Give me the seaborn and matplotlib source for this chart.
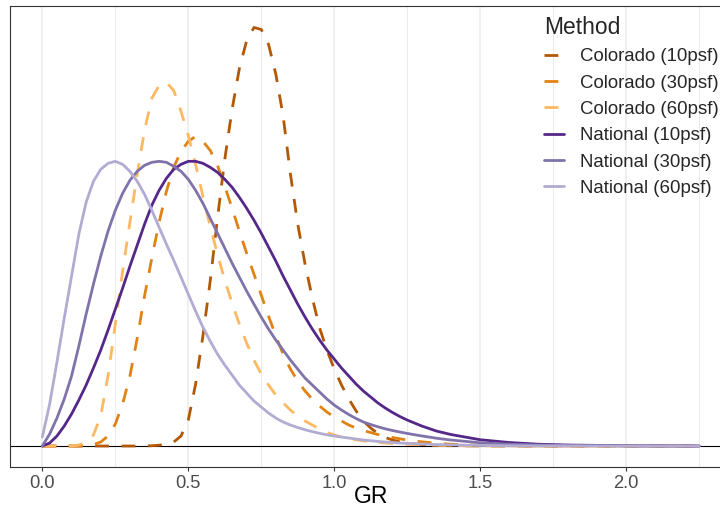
import matplotlib
matplotlib.use("Agg")
import matplotlib.pyplot as plt
from matplotlib.patches import Rectangle
import numpy as np
import pandas as pd
import seaborn as sns

# ---------------- data ----------------
gr = [0, .025, .05, .075, .1, .125, .15, .175, .2, .225, .25, .275, .3, .325, .35,
      .375, .4, .425, .45, .475, .5, .525, .55, .575, .6, .625, .65, .675, .7, .725,
      .75, .775, .8, .825, .85, .875, .9, .925, .95, .975, 1.0, 1.025, 1.05, 1.075,
      1.1, 1.125, 1.15, 1.175, 1.2, 1.225, 1.25, 1.275, 1.3, 1.35, 1.4, 1.5, 1.6,
      1.7, 1.8, 2.0, 2.25]

methods = ["Colorado (10psf)", "Colorado (30psf)", "Colorado (60psf)",
           "National (10psf)", "National (30psf)", "National (60psf)"]
colors = ["#B35806", "#E08214", "#FDB863", "#542788", "#8073AC", "#B2ABD2"]

colorado_10 = [0, 0, 0, 0, 0, 0, 0, 0, 0, 0, 0, 0, 0, 0, 0,
               0.003, 0.008, 0.02, 0.04, 0.10, 0.26, 0.62, 1.10, 1.65, 2.28, 2.87, 3.37, 3.78, 4.06, 4.19,
               4.17, 4.02, 3.72, 3.30, 2.72, 2.22, 1.82, 1.48, 1.18, 0.96, 0.77, 0.61, 0.47, 0.35,
               0.25, 0.18, 0.125, 0.085, 0.06, 0.042, 0.03, 0.021, 0.015, 0.007, 0.003, 0.001, 0,
               0, 0, 0, 0]
colorado_30 = [0, 0, 0, 0, 0, 0, 0.005, 0.015, 0.04, 0.10, 0.22, 0.42, 0.70, 1.08, 1.50,
               1.88, 2.24, 2.55, 2.79, 2.95, 3.05, 3.10, 3.05, 2.96, 2.81, 2.60, 2.38, 2.15, 1.93, 1.72,
               1.51, 1.30, 1.10, 0.92, 0.77, 0.65, 0.55, 0.47, 0.40, 0.34, 0.29, 0.25, 0.21, 0.18,
               0.155, 0.135, 0.115, 0.10, 0.085, 0.072, 0.06, 0.05, 0.042, 0.028, 0.018, 0.008, 0.003,
               0.001, 0, 0, 0]
colorado_60 = [0, 0, 0, 0, 0, 0.01, 0.04, 0.11, 0.30, 0.70, 1.22, 1.75, 2.24, 2.72, 3.16,
               3.48, 3.61, 3.64, 3.56, 3.35, 3.11, 2.82, 2.50, 2.20, 1.92, 1.66, 1.43, 1.22, 1.03, 0.86,
               0.72, 0.61, 0.51, 0.43, 0.36, 0.30, 0.25, 0.21, 0.17, 0.135, 0.11, 0.09, 0.075, 0.062,
               0.052, 0.043, 0.036, 0.03, 0.025, 0.021, 0.017, 0.014, 0.012, 0.008, 0.005, 0.002, 0.001,
               0, 0, 0, 0]
national_10 = [0, 0.03, 0.10, 0.20, 0.32, 0.46, 0.61, 0.78, 0.96, 1.16, 1.37, 1.58, 1.80, 2.01, 2.22,
               2.41, 2.56, 2.68, 2.77, 2.82, 2.85, 2.85, 2.83, 2.79, 2.74, 2.67, 2.59, 2.49, 2.38, 2.26,
               2.13, 1.99, 1.85, 1.70, 1.56, 1.42, 1.29, 1.17, 1.06, 0.96, 0.87, 0.78, 0.70, 0.62,
               0.55, 0.49, 0.43, 0.38, 0.335, 0.295, 0.26, 0.23, 0.20, 0.15, 0.115, 0.063, 0.035,
               0.018, 0.010, 0.003, 0.0005]
national_30 = [0, 0.12, 0.28, 0.47, 0.70, 1.00, 1.32, 1.62, 1.90, 2.15, 2.36, 2.53, 2.66, 2.75, 2.81,
               2.84, 2.85, 2.84, 2.80, 2.75, 2.67, 2.56, 2.43, 2.28, 2.13, 1.98, 1.83, 1.69, 1.55, 1.42,
               1.29, 1.17, 1.06, 0.96, 0.86, 0.77, 0.68, 0.61, 0.54, 0.47, 0.41, 0.36, 0.315, 0.275,
               0.24, 0.215, 0.192, 0.172, 0.155, 0.14, 0.126, 0.113, 0.101, 0.078, 0.06, 0.033, 0.018,
               0.01, 0.0055, 0.0015, 0.0003]
national_60 = [0.09, 0.42, 0.84, 1.28, 1.70, 2.12, 2.44, 2.65, 2.77, 2.83, 2.85, 2.82, 2.75, 2.65, 2.52,
               2.36, 2.19, 2.02, 1.86, 1.69, 1.52, 1.35, 1.19, 1.05, 0.92, 0.81, 0.71, 0.61, 0.53, 0.45,
               0.39, 0.33, 0.28, 0.24, 0.21, 0.185, 0.163, 0.144, 0.127, 0.112, 0.10, 0.09, 0.08, 0.07,
               0.06, 0.053, 0.046, 0.04, 0.035, 0.03, 0.027, 0.023, 0.02, 0.015, 0.011, 0.006, 0.003,
               0.0015, 0.0008, 0.0002, 0.0]

series = [colorado_10, colorado_30, colorado_60, national_10, national_30, national_60]
x_major = [0.0, 0.5, 1.0, 1.5, 2.0]
x_labels = ["0.0", "0.5", "1.0", "1.5", "2.0"]
x_minor = [0.25, 0.75, 1.25, 1.75, 2.25]

df = pd.concat(
    [pd.DataFrame({"GR": gr, "density": vals, "Method": m}) for m, vals in zip(methods, series)],
    ignore_index=True,
)

# ---------------- style ----------------
sns.set_theme(style="white")
plt.rcParams["font.family"] = ["Liberation Sans", "DejaVu Sans"]

W, H = 720, 518
fig = plt.figure(figsize=(W / 100, H / 100), dpi=100)
ax_left, ax_right, ax_top, ax_bottom = 9.5, 732.0, 5.5, 467.0
ax = fig.add_axes([ax_left / W, 1 - ax_bottom / H, (ax_right - ax_left) / W, (ax_bottom - ax_top) / H])

ax.axhline(0, color="black", lw=0.8, zorder=1)

dash_styles = {m: ((5, 4.5) if m.startswith("Colorado") else "") for m in methods}
sns.lineplot(
    data=df, x="GR", y="density", hue="Method", style="Method",
    hue_order=methods, style_order=methods,
    palette=dict(zip(methods, colors)), dashes=dash_styles,
    linewidth=2.0, estimator=None, sort=False, ax=ax, zorder=2,
)

ax.set_xlim(-0.1125, 2.3625)
ax.set_ylim(-0.21, 4.41)
ax.set_xticks(x_major)
ax.set_xticklabels(x_labels)
ax.set_xticks(x_minor, minor=True)
ax.set_yticks([])
ax.grid(False)
ax.grid(True, which="major", axis="x", color="#EBEBEB", lw=1.1, zorder=0)
ax.grid(True, which="minor", axis="x", color="#EBEBEB", lw=0.7, zorder=0)
ax.set_axisbelow(True)

# white legend-key background (as in the reference, keys hide the grid line)
ax.add_patch(Rectangle((545 / W, 1 - 200 / H), 21 / W, 159 / H, transform=fig.transFigure,
                       facecolor="white", edgecolor="none", zorder=0.5))

for s in ax.spines.values():
    s.set_color("#333333")
    s.set_linewidth(0.8)

ax.tick_params(axis="x", which="major", bottom=True, length=2.6, width=0.8, color="#333333",
               labelcolor="#4D4D4D", labelsize=13.2, pad=3.0)
ax.tick_params(axis="x", which="minor", bottom=False)

ax.set_ylabel("")
ax.set_xlabel("GR", fontsize=16.5, color="black")
ax.xaxis.set_label_coords(0.5, -(485 - ax_bottom) / (ax_bottom - ax_top))
ax.xaxis.label.set_verticalalignment("top")

sns.move_legend(
    ax, "upper left",
    bbox_to_anchor=(544 / W, 1 - 16 / H), bbox_transform=fig.transFigure,
    title="Method", frameon=False, fontsize=13.4, title_fontsize=16.5,
    handlelength=1.1, handletextpad=0.85, labelspacing=0.5,
    borderpad=0, borderaxespad=0, alignment="left",
)

fig.savefig("out.png", dpi=100)
